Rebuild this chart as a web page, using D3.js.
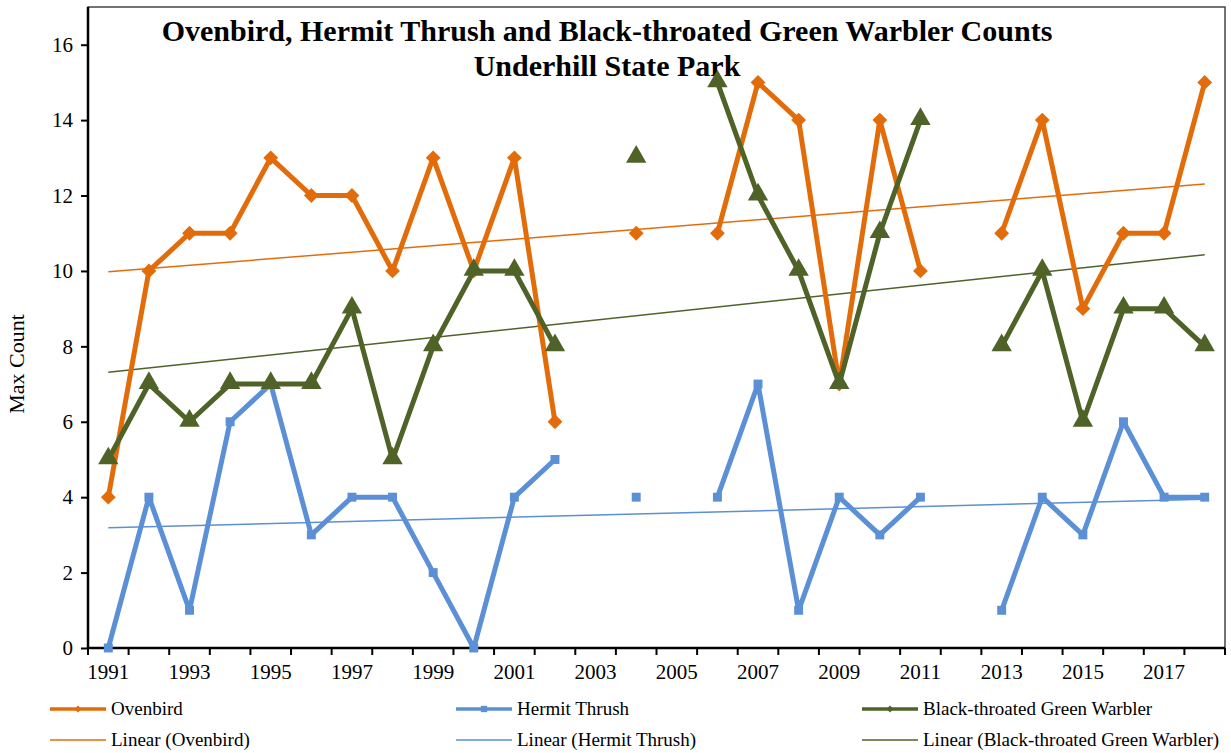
<!DOCTYPE html>
<html>
<head>
<meta charset="utf-8">
<script src="https://cdn.jsdelivr.net/npm/d3@7"></script>
<style>
	body { margin: 0; background: #fff; }
	svg { font-family: "Liberation Serif", "Times New Roman", serif; }
</style>
</head>
<body>
<svg id="chart" width="1231" height="753"></svg>
<script>
var years = [1991, 1992, 1993, 1994, 1995, 1996, 1997, 1998, 1999, 2000, 2001, 2002, 2003, 2004,
	2005, 2006, 2007, 2008, 2009, 2010, 2011, 2012, 2013, 2014, 2015, 2016, 2017, 2018]
var ovenbird = [4, 10, 11, 11, 13, 12, 12, 10, 13, 10, 13, 6, null, 11,
	null, 11, 15, 14, 7, 14, 10, null, 11, 14, 9, 11, 11, 15]
var hermitThrush = [0, 4, 1, 6, 7, 3, 4, 4, 2, 0, 4, 5, null, 4,
	null, 4, 7, 1, 4, 3, 4, null, 1, 4, 3, 6, 4, 4]
var warbler = [5, 7, 6, 7, 7, 7, 9, 5, 8, 10, 10, 8, null, 13,
	null, 15, 12, 10, 7, 11, 14, null, 8, 10, 6, 9, 9, 8]
var yTicks = [0, 2, 4, 6, 8, 10, 12, 14, 16]
var titleLines = ["Ovenbird, Hermit Thrush and Black-throated Green Warbler Counts", "Underhill State Park"]

var series = [
	{name: "Ovenbird", values: ovenbird, color: "#e36c0a", marker: "diamond"},
	{name: "Hermit Thrush", values: hermitThrush, color: "#5b8fd6", marker: "square"},
	{name: "Black-throated Green Warbler", values: warbler, color: "#4f6228", marker: "triangle"}
]

var plot = {left: 88, right: 1225, top: 7, bottom: 648}
var svg = d3.select("#chart")

var x = d3.scaleBand().domain(years).range([plot.left, plot.right])
var y = d3.scaleLinear().domain([0, 17]).range([plot.bottom, plot.top])
var cx = function(yr) { return x(yr) + x.bandwidth() / 2 }

// plot frame
svg.append("rect")
	.attr("x", plot.left).attr("y", plot.top)
	.attr("width", plot.right - plot.left).attr("height", plot.bottom - plot.top)
	.attr("fill", "none").attr("stroke", "#444").attr("stroke-width", 1.5)

// y axis
var yAxis = svg.append("g")
	.attr("transform", "translate(" + plot.left + ",0)")
	.call(d3.axisLeft(y).tickValues(yTicks).tickSize(7).tickPadding(8))
yAxis.attr("font-family", null)
yAxis.select(".domain").attr("stroke", "#000").attr("stroke-width", 2.5)
	.attr("d", "M0," + plot.bottom + "V" + plot.top)
yAxis.selectAll(".tick line").attr("stroke", "#000").attr("stroke-width", 2)
yAxis.selectAll(".tick text").attr("font-size", 21).attr("fill", "#000")

// x axis: ticks on category boundaries, labels on every other year
var xAxis = svg.append("g").attr("transform", "translate(0," + plot.bottom + ")")
xAxis.append("line")
	.attr("x1", plot.left).attr("x2", plot.right)
	.attr("stroke", "#000").attr("stroke-width", 2.5)
xAxis.selectAll("line.tick")
	.data(years.concat([null]))
	.join("line")
	.attr("class", "tick")
	.attr("x1", function(d, i) { return plot.left + i * x.step() })
	.attr("x2", function(d, i) { return plot.left + i * x.step() })
	.attr("y1", 0).attr("y2", 7)
	.attr("stroke", "#000").attr("stroke-width", 2)
xAxis.selectAll("text")
	.data(years.filter(function(d, i) { return i % 2 == 0 }))
	.join("text")
	.attr("x", cx).attr("y", 31)
	.attr("text-anchor", "middle")
	.attr("font-size", 21)
	.text(function(d) { return d })

// y axis title
svg.append("text")
	.attr("transform", "translate(24,364) rotate(-90)")
	.attr("text-anchor", "middle")
	.attr("font-size", 22)
	.text("Max Count")

// title
svg.append("g").selectAll("text")
	.data(titleLines)
	.join("text")
	.attr("x", 607).attr("y", function(d, i) { return 41 + i * 35 })
	.attr("text-anchor", "middle")
	.attr("font-size", 30).attr("font-weight", "bold")
	.text(function(d) { return d })

function trend(values) {
	var pts = []
	values.forEach(function(v, i) { if (v != null) pts.push([i + 1, v]) })
	var mx = d3.mean(pts, function(p) { return p[0] })
	var my = d3.mean(pts, function(p) { return p[1] })
	var sxy = d3.sum(pts, function(p) { return (p[0] - mx) * (p[1] - my) })
	var sxx = d3.sum(pts, function(p) { return (p[0] - mx) * (p[0] - mx) })
	var b = sxy / sxx
	return function(i) { return my + b * (i + 1 - mx) }
}

var markerSym = {
	diamond: d3.symbol().type(d3.symbolDiamond2).size(140),
	square: d3.symbol().type(d3.symbolSquare).size(80),
	triangle: d3.symbol().type(d3.symbolTriangle).size(180)
}

var line = d3.line()
	.defined(function(d) { return d.v != null })
	.x(function(d) { return cx(d.yr) })
	.y(function(d) { return y(d.v) })

// trend lines
series.forEach(function(s) {
	var f = trend(s.values)
	var n = years.length - 1
	svg.append("line")
		.attr("x1", cx(years[0])).attr("y1", y(f(0)))
		.attr("x2", cx(years[n])).attr("y2", y(f(n)))
		.attr("stroke", s.color).attr("stroke-width", 1.5)
})

// series lines and markers
series.forEach(function(s) {
	var pts = years.map(function(yr, i) { return {yr: yr, v: s.values[i]} })
	var g = svg.append("g")
	g.append("path")
		.attr("d", line(pts))
		.attr("fill", "none").attr("stroke", s.color)
		.attr("stroke-width", 5).attr("stroke-linejoin", "round")
	g.selectAll("path.m")
		.data(pts.filter(function(p) { return p.v != null }))
		.join("path")
		.attr("class", "m")
		.attr("d", markerSym[s.marker])
		.attr("transform", function(p) {
			var dy = s.marker == "triangle" ? -1 : 0
			return "translate(" + cx(p.yr) + "," + (y(p.v) + dy) + ")"
		})
		.attr("fill", s.color)
})

// legend
var legendCols = [50, 456, 862]
series.forEach(function(s, i) {
	var lx = legendCols[i]
	var g = svg.append("g").attr("transform", "translate(" + lx + ",0)")
	g.append("line").attr("x1", 0).attr("x2", 56).attr("y1", 709).attr("y2", 709)
		.attr("stroke", s.color).attr("stroke-width", 3.5)
	g.append("path")
		.attr("d", d3.symbol().type(s.marker == "square" ? d3.symbolSquare : d3.symbolDiamond2).size(s.marker == "square" ? 40 : 30))
		.attr("transform", "translate(28,709)")
		.attr("fill", s.color)
	g.append("text").attr("x", 61).attr("y", 715)
		.attr("font-size", 19).text(s.name)
	g.append("line").attr("x1", 0).attr("x2", 56).attr("y1", 740).attr("y2", 740)
		.attr("stroke", s.color).attr("stroke-width", 1.5)
	g.append("text").attr("x", 61).attr("y", 746)
		.attr("font-size", 19).text("Linear (" + s.name + ")")
})
</script>
</body>
</html>
